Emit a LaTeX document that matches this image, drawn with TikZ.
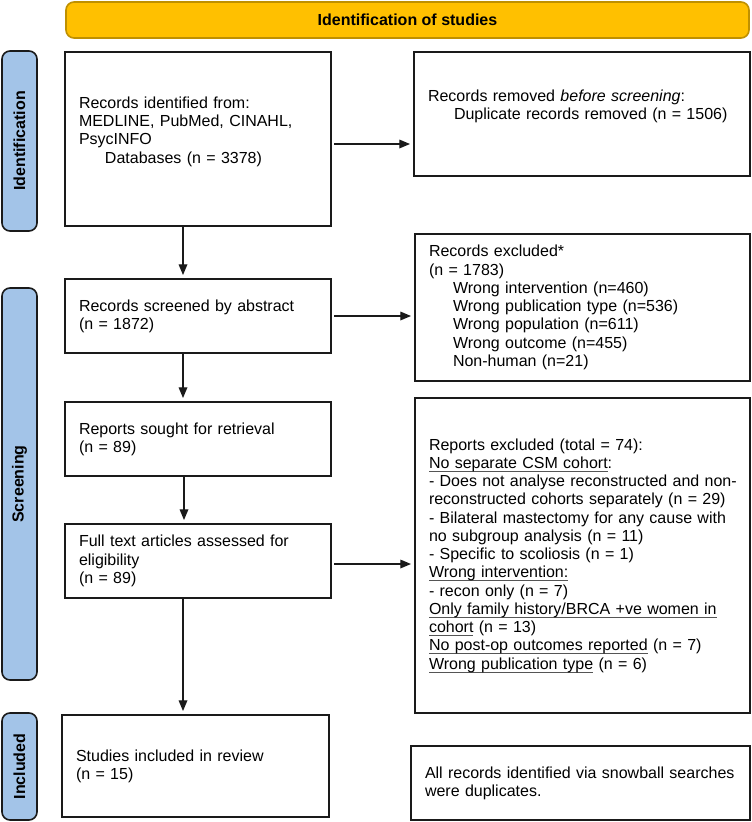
\documentclass[tikz,border=0pt]{standalone}
\usepackage{fontspec}
\setmainfont{Liberation Sans}
\usetikzlibrary{arrows.meta,calc}
\definecolor{gold}{HTML}{FFC000}
\definecolor{golddark}{HTML}{BF9000}
\definecolor{lblue}{HTML}{A3C4E8}
\definecolor{edge}{HTML}{1A1A1A}
\definecolor{ulgray}{HTML}{555555}
\newsavebox{\ulnbox}
\newcommand{\uln}[1]{\sbox{\ulnbox}{#1}\rlap{\textcolor{ulgray}{\rule[-2.4pt]{\wd\ulnbox}{0.6pt}}}\usebox{\ulnbox}}
\begin{document}
\begin{tikzpicture}[x=0.75pt,y=-0.75pt,
  every node/.style={font=\fontsize{12pt}{13.7pt}\selectfont},
  box/.style={draw=edge, line width=1pt, inner xsep=10.5pt, inner ysep=2pt, align=left},
  side/.style={draw=edge, fill=lblue, line width=1.2pt, rounded corners=6pt,
    minimum height=26.25pt, inner sep=0pt, rotate=90,
    font=\fontsize{12pt}{14pt}\selectfont\bfseries},
  titlebar/.style={draw=golddark, fill=gold, line width=1.2pt, rounded corners=6pt,
    minimum width=512.25pt, minimum height=27pt, inner sep=0pt,
    font=\fontsize{12pt}{14pt}\selectfont\bfseries},
  arr/.style={draw=edge, line width=0.9pt, -{Triangle[length=8pt,width=6.5pt]}, shorten >=2.5pt}
]
\useasboundingbox (0,0) rectangle (752,822);

% title and side labels
\node[titlebar] (title) at (407.5,20) {Identification of studies};
\node[side, minimum width=135pt] (identL) at (19.5,141) {Identification};
\node[side, minimum width=294pt] (screenL) at (19.5,484) {Screening};
\node[side, minimum width=80.25pt] (inclL) at (19.5,766.5) {Included};

% left column
\node[box, text width=178.5pt, minimum width=199.5pt, minimum height=130.5pt] (b1) at (198,139)
  {Records identified from:\\ MEDLINE, PubMed, CINAHL,\\ PsycINFO\\ \hspace*{19.5pt}Databases (n = 3378)\\ \mbox{}};
\node[box, text width=178.5pt, minimum width=199.5pt, minimum height=55.5pt] (scr) at (198,316)
  {Records screened by abstract\\ (n = 1872)};
\node[box, text width=178.5pt, minimum width=199.5pt, minimum height=55.5pt] (rs) at (198,439)
  {Reports sought for retrieval\\ (n = 89)};
\node[box, text width=178.5pt, minimum width=199.5pt, minimum height=55.5pt] (ft) at (198,561)
  {Full text articles assessed for\\ eligibility\\ (n = 89)};
\node[box, text width=179.25pt, minimum width=200.25pt, minimum height=76.5pt] (st) at (195.5,766)
  {Studies included in review\\ (n = 15)};

% right column
\node[box, text width=231pt, minimum width=252pt, minimum height=93pt] (rem) at (582,114)
  {\mbox{Records removed \textit{before screening}:}\\ \mbox{\hspace*{19.5pt}Duplicate records removed (n = 1506)}\\ \mbox{}};
\node[box, text width=230.25pt, minimum width=251.25pt, minimum height=110.25pt] (exc) at (582.5,307.5)
  {Records excluded*\\ (n = 1783)\\
   \hspace*{18pt}Wrong intervention (n=460)\\
   \hspace*{18pt}Wrong publication type (n=536)\\
   \hspace*{18pt}Wrong population (n=611)\\
   \hspace*{18pt}Wrong outcome (n=455)\\
   \hspace*{18pt}Non-human (n=21)};
\node[box, text width=230.25pt, minimum width=251.25pt, minimum height=236.25pt] (rex) at (582.5,555.5)
  {\mbox{Reports excluded (total = 74):}\\
   \mbox{\uln{No separate CSM cohort}:}\\
   \mbox{- Does not analyse reconstructed and non-}\\
   \mbox{reconstructed cohorts separately (n = 29)}\\
   \mbox{- Bilateral mastectomy for any cause with}\\
   \mbox{no subgroup analysis (n = 11)}\\
   \mbox{- Specific to scoliosis (n = 1)}\\
   \mbox{\uln{Wrong intervention:}}\\
   \mbox{- recon only (n = 7)}\\
   \mbox{\uln{Only family history/BRCA +ve women in}}\\
   \mbox{\uln{cohort} (n = 13)}\\
   \mbox{\uln{No post-op outcomes reported} (n = 7)}\\
   \mbox{\uln{Wrong publication type} (n = 6)}};
\node[box, text width=233.25pt, minimum width=254.25pt, minimum height=55.5pt] (snow) at (580.5,783)
  {\mbox{All records identified via snowball searches}\\ were duplicates.};

% connectors
\coordinate (h1) at ($(b1.east)+(0,5)$);
\draw[arr, shorten <=2pt] (h1) -- (h1 -| rem.west);
\coordinate (d1) at ($(b1.south)+(-15,0)$);
\draw[arr] (d1) -- (d1 |- scr.north);
\draw[arr, shorten <=2pt] (scr.east) -- (scr.east -| exc.west);
\coordinate (d2) at ($(scr.south)+(-15,0)$);
\draw[arr] (d2) -- (d2 |- rs.north);
\coordinate (d3) at ($(rs.south)+(-14,0)$);
\draw[arr] (d3) -- (d3 |- ft.north);
\coordinate (h2) at ($(ft.east)+(0,3)$);
\draw[arr, shorten <=2pt] (h2) -- (h2 -| rex.west);
\coordinate (d4) at ($(ft.south)+(-15,0)$);
\draw[arr] (d4) -- (d4 |- st.north);
\end{tikzpicture}
\end{document}
